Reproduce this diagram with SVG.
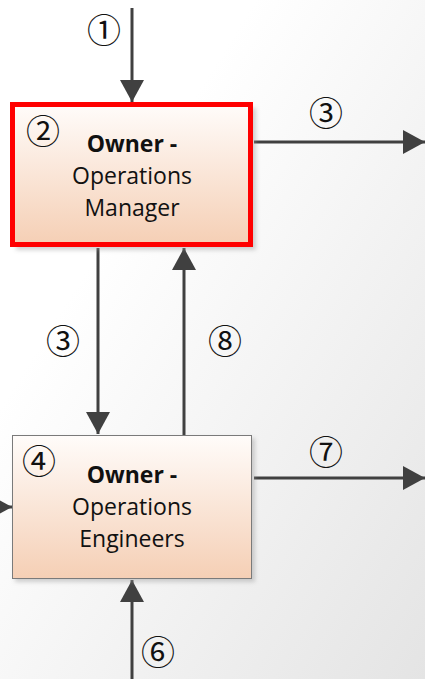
<svg xmlns="http://www.w3.org/2000/svg" width="425" height="679" viewBox="0 0 425 679">
<style>
.lbl{font-family:"Open Sans","Liberation Sans",sans-serif;font-size:23px;fill:#111;text-anchor:middle}
.b{font-weight:bold}
.num{font-family:"Noto Sans CJK JP","DejaVu Sans",sans-serif;font-size:34px;fill:#111;text-anchor:middle}
.conn{stroke:#404040;stroke-width:3;fill:none}
</style>
<defs>
<linearGradient id="bg" x1="0.3" y1="0.3" x2="1" y2="1">
<stop offset="0" stop-color="#ffffff"/>
<stop offset="1" stop-color="#e4e4e4"/>
</linearGradient>
<linearGradient id="boxfill" x1="0" y1="0" x2="0" y2="1">
<stop offset="0" stop-color="#fffcfa"/>
<stop offset="1" stop-color="#f5cfb5"/>
</linearGradient>
<marker id="ah" markerUnits="userSpaceOnUse" markerWidth="24" markerHeight="24" refX="22" refY="12" orient="auto" viewBox="0 0 24 24">
<path d="M0,0 L22,12 L0,24 Z" fill="#404040"/>
</marker>
<filter id="sh" x="-10%" y="-10%" width="130%" height="130%">
<feGaussianBlur stdDeviation="2"/>
</filter>
</defs>
<rect x="0" y="0" width="425" height="679" fill="url(#bg)"/>
<g id="connectors">
<line class="conn" x1="132" y1="8" x2="132" y2="102" marker-end="url(#ah)"/>
<line class="conn" x1="254" y1="142" x2="425" y2="142" marker-end="url(#ah)"/>
<line class="conn" x1="98" y1="248" x2="98" y2="434" marker-end="url(#ah)"/>
<line class="conn" x1="184" y1="435" x2="184" y2="248" marker-end="url(#ah)"/>
<line class="conn" x1="254" y1="478" x2="425" y2="478" marker-end="url(#ah)"/>
<line class="conn" x1="-12" y1="507" x2="12" y2="507" marker-end="url(#ah)"/>
<line class="conn" x1="132" y1="679" x2="132" y2="580" marker-end="url(#ah)"/>
<text class="num" x="104" y="43">①</text>
<text class="num" x="326" y="126">③</text>
<text class="num" x="63" y="354">③</text>
<text class="num" x="225" y="354">⑧</text>
<text class="num" x="326" y="465">⑦</text>
<text class="num" x="158" y="665">⑥</text>
</g>
<g id="node-manager">
<rect x="16" y="108" width="240" height="142" fill="#999" opacity="0.45" filter="url(#sh)"/>
<rect x="12.5" y="104.5" width="238" height="140" fill="url(#boxfill)" stroke="#ff0000" stroke-width="5"/>
<text class="num" x="43" y="144">②</text>
<text class="lbl b" x="132" y="152">Owner -</text>
<text class="lbl" x="132" y="184">Operations</text>
<text class="lbl" x="132" y="216">Manager</text>
</g>
<g id="node-engineers">
<rect x="15" y="438" width="240" height="144" fill="#999" opacity="0.45" filter="url(#sh)"/>
<rect x="12.5" y="435.5" width="239" height="143" fill="url(#boxfill)" stroke="#7a7a7a" stroke-width="1"/>
<text class="num" x="39" y="474">④</text>
<text class="lbl b" x="132" y="483">Owner -</text>
<text class="lbl" x="132" y="515">Operations</text>
<text class="lbl" x="132" y="547">Engineers</text>
</g>
</svg>
